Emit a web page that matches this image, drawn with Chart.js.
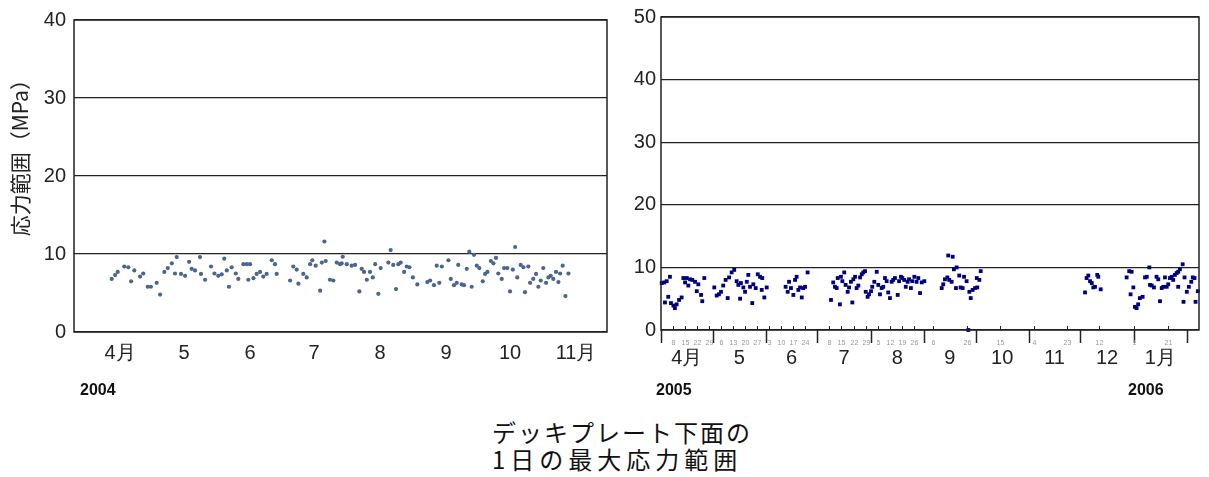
<!DOCTYPE html>
<html>
<head>
<meta charset="utf-8">
<script src="https://cdn.jsdelivr.net/npm/chart.js@4"></script>
<style>
  body { margin: 0; background: #fff; width: 1209px; height: 477px; position: relative; overflow: hidden; }
  #left { position: absolute; left: 0; top: 0; }
  #right { position: absolute; left: 610px; top: 0; }
  .year { position: absolute; top: 381px; font: bold 16px "Liberation Sans", Arial, sans-serif; color: #111; }
  .cap { position: absolute; left: 492px; font-size: 24px; line-height: 24px; font-family: "Noto Sans CJK JP", sans-serif; color: #111; white-space: nowrap; }
</style>
</head>
<body>
<canvas id="left" width="620" height="400"></canvas>
<canvas id="right" width="599" height="400"></canvas>
<div class="year" style="left:80px">2004</div>
<div class="year" style="left:656px">2005</div>
<div class="year" style="left:1128px">2006</div>
<div class="cap" style="top:420px;letter-spacing:2px">デッキプレート下面の</div>
<div class="cap" style="top:447px;letter-spacing:5px">1日の最大応力範囲</div>
<script>
// 2004: days counted from 1 April 2004
const monthStarts2004 = [0, 30, 61, 91, 122, 153, 183, 214];
const monthLabels2004 = ['4月', '5', '6', '7', '8', '9', '10', '11月'];
const yTicks2004 = [0, 10, 20, 30, 40];

const days2004 = [-3.9,-2.3,-1.1,2.0,3.9,5.2,6.7,9.4,10.9,13.0,
  14.5,17.2,18.8,20.8,22.4,24.3,25.8,26.6,28.6,30.5,
  32.4,33.6,35.2,37.5,38.0,39.9,42.7,44.3,46.1,47.7,
  48.9,50.1,51.1,52.4,54.3,55.5,57.9,59.5,60.2,61.0,
  62.6,64.1,65.7,67.2,68.8,71.2,72.7,73.5,79.8,81.3,
  82.9,83.7,86.0,87.6,89.2,90.2,91.8,93.9,94.7,95.9,
  96.5,98.5,100.1,101.7,103.2,104.0,104.5,106.4,108.7,110.3,
  112.3,113.4,114.5,115.8,117.3,118.6,119.7,121.2,122.3,125.9,
  127.0,128.2,129.5,130.6,131.7,133.3,134.5,135.8,137.4,139.5,
  144.2,145.5,147.3,148.6,149.8,151.0,154.1,155.2,156.7,158.0,
  158.7,160.3,161.4,162.7,163.9,165.0,166.1,167.4,168.6,170.2,
  171.3,172.4,174.0,175.2,176.4,177.5,179.1,180.2,181.7,183.0,
  184.3,185.4,186.4,188.0,189.3,190.0,191.6,192.4,193.9,195.2,
  196.3,197.4,198.6,199.9,201.0,202.1,203.3,204.6,205.7,206.5,
  207.7,209.0,210.4];
const stress2004 = [6.8,7.3,7.7,8.4,8.3,6.5,7.9,7.1,7.5,5.8,
  5.8,6.3,4.8,7.7,8.2,8.8,7.5,9.6,7.45,7.2,
  9.0,8.1,7.9,9.6,7.45,6.7,8.4,7.5,7.2,7.4,
  9.4,7.9,5.8,8.3,7.5,6.8,8.7,8.7,6.7,8.7,
  6.9,7.45,7.7,7.1,7.45,9.2,8.7,7.45,6.6,8.4,
  8.0,6.2,7.45,7.0,8.7,9.2,8.5,5.3,8.9,11.6,
  9.1,6.7,6.6,8.9,8.7,8.8,9.65,8.7,8.5,8.6,
  5.2,8.1,7.7,6.7,7.7,7.0,8.7,4.9,8.2,8.9,
  10.5,8.6,5.5,8.7,8.9,7.7,8.4,8.3,7.0,6.1,
  6.4,6.6,6.0,8.5,6.3,8.4,9.2,6.8,6.0,6.3,
  8.6,6.1,6.0,8.1,10.3,5.8,9.9,8.5,8.2,6.5,
  7.45,7.7,9.1,8.8,9.5,7.5,6.8,8.2,8.2,5.2,
  8.0,10.9,7.0,8.6,8.3,5.1,8.4,6.3,6.8,7.45,
  5.8,6.6,8.2,6.3,7.0,7.2,6.8,7.7,6.4,7.5,
  8.5,4.6,7.5];

// 2005-2006: days counted from 1 April 2005
const monthStarts2005 = [0, 30, 61, 91, 122, 153, 183, 214, 244, 275, 306];
const monthMids2005 = [15, 45.5, 76, 106.5, 137.5, 168, 198.5, 229, 259.5, 290.5];
const monthLabels2005 = ['4月', '5', '6', '7', '8', '9', '10', '11', '12', '1月'];
const minorTicks2005 = [7,14,21,28,35,42,49,56,63,70,77,84,98,105,112,119,126,133,140,147,
  158,178,197,217,236,255,275,295];
const yTicks2005 = [0, 10, 20, 30, 40, 50];

const days2005 = [0.4,1.9,3.3,5.2,2.3,4.2,5.8,7.2,8.1,9.1,10.5,12.0,13.0,14.0,15.0,15.9,16.9,18.2,19.8,20.8,21.7,23.3,24.0,25.2,
  31.0,32.4,33.7,34.9,36.2,37.6,38.8,39.6,41.1,42.6,44.0,45.0,46.0,46.5,47.9,48.9,49.9,50.8,51.8,53.1,53.7,55.1,56.3,57.6,58.6,58.9,60.1,61.5,
  72.5,73.7,74.5,75.6,77.0,78.0,78.9,79.9,80.9,81.9,82.8,83.8,85.3,
  98.9,100.2,101.2,102.2,102.8,104.1,104.7,105.5,106.6,107.4,108.6,109.4,110.5,111.3,111.9,112.9,113.8,114.8,115.8,116.8,
  117.7,118.7,119.1,120.2,121.0,122.2,122.9,124.1,125.5,126.4,127.4,128.4,129.3,130.3,131.3,132.2,133.2,134.2,135.1,136.1,
  137.7,138.5,139.6,140.4,141.5,142.4,143.5,144.3,145.4,146.2,147.4,148.7,149.7,150.7,151.7,153.2,
  163.3,164.2,165.2,166.6,167.1,167.7,169.1,169.7,170.4,171.6,172.0,173.5,174.3,175.5,176.3,177.8,178.8,179.4,180.2,181.3,
  182.7,183.7,184.0,185.2,186.0,
  246.7,247.6,248.6,249.6,250.6,251.5,252.5,253.8,254.4,255.8,
  270.9,272.4,273.2,273.8,274.8,275.7,276.7,277.6,278.6,280.2,281.6,282.6,284.1,284.5,285.5,286.8,288.3,289.3,290.3,291.3,
  292.2,293.2,294.2,295.1,296.1,297.1,298.0,299.0,300.0,300.9,300.9,301.9,303.5,304.0,304.6,305.9,307.1,308.5,309.4,310.4,
  311.0,312.3];
const stress2005 = [7.5,7.6,7.8,8.5,4.4,5.3,4.3,3.9,3.5,4.1,4.8,5.2,8.3,7.6,8.3,7.1,8.1,8.0,7.7,6.2,7.3,5.6,4.6,8.3,
  6.8,5.5,5.7,6.1,7.1,8.0,5.1,8.4,9.2,9.6,7.8,7.2,5.0,7.5,6.8,6.1,7.7,8.8,6.9,4.3,7.3,6.7,8.9,8.5,6.4,8.3,5.2,6.8,
  6.9,6.1,7.7,6.7,5.6,8.0,8.5,6.4,6.8,5.2,6.7,6.9,9.2,
  4.8,7.6,6.9,6.7,8.3,4.1,8.5,7.8,9.2,7.2,6.1,6.8,7.7,4.4,8.1,8.5,6.7,7.1,8.4,8.9,
  9.2,9.4,6.1,5.3,5.7,6.2,6.9,7.7,9.3,7.2,5.7,6.7,6.9,8.3,7.8,6.0,5.1,7.7,8.0,8.3,
  5.6,7.8,8.5,8.3,8.0,6.9,7.7,8.1,6.7,7.8,8.5,7.7,8.3,5.9,7.6,7.8,
  6.7,7.3,8.1,8.4,11.9,8.0,7.7,11.7,9.7,6.7,10.0,8.7,6.8,6.7,8.5,7.8,0.0,6.1,5.1,6.4,
  6.7,8.3,6.8,8.0,9.4,
  6.0,8.3,8.7,7.8,7.5,6.8,6.9,8.8,8.5,6.5,
  8.4,9.4,5.7,9.3,6.8,3.7,3.5,4.1,5.1,5.3,8.4,8.5,10.0,7.2,7.1,6.8,8.5,8.1,4.6,6.7,
  6.9,8.4,6.9,7.3,8.3,8.5,8.0,8.8,9.1,9.3,6.9,9.7,10.5,4.5,8.4,6.1,6.9,7.7,8.4,8.3,
  4.5,6.2];

const toPoints = (xs, ys) => xs.map((x, i) => ({ x: x, y: ys[i] }));
const numFont = { family: '"Liberation Sans", Arial, sans-serif', size: 20 };

// box round the plot area
const frame = {
  id: 'frame',
  afterDraw(chart) {
    const a = chart.chartArea, ctx = chart.ctx;
    ctx.save();
    ctx.strokeStyle = '#222';
    ctx.lineWidth = 1.5;
    ctx.strokeRect(a.left, a.top, a.right - a.left, a.bottom - a.top);
    ctx.restore();
  }
};

// month boundary ticks, small ticks and tiny date marks on the 2005 axis
const axisMarks = {
  id: 'axisMarks',
  afterDraw(chart) {
    const ctx = chart.ctx, x = chart.scales.x, b = chart.chartArea.bottom;
    ctx.save();
    ctx.strokeStyle = '#222';
    ctx.lineWidth = 1.5;
    monthStarts2005.forEach(d => {
      const px = Math.round(x.getPixelForValue(d)) + 0.5;
      ctx.beginPath(); ctx.moveTo(px, b); ctx.lineTo(px, b + 13); ctx.stroke();
    });
    ctx.lineWidth = 1;
    ctx.fillStyle = '#999';
    ctx.font = '7px "Liberation Sans", Arial';
    ctx.textAlign = 'center';
    ctx.textBaseline = 'middle';
    minorTicks2005.forEach(d => {
      const px = Math.round(x.getPixelForValue(d)) + 0.5;
      ctx.beginPath(); ctx.moveTo(px, b); ctx.lineTo(px, b - 4); ctx.stroke();
      const day = new Date(2005, 3, 1 + d).getDate();
      ctx.fillText(String(day), px, b + 13);
    });
    ctx.restore();
  }
};

new Chart(document.getElementById('left'), {
  type: 'scatter',
  data: {
    datasets: [{
      data: toPoints(days2004, stress2004),
      backgroundColor: '#4a6590',
      borderWidth: 0,
      pointRadius: 2.1
    }]
  },
  options: {
    responsive: false,
    animation: false,
    layout: { padding: { top: 17, right: 13, left: 0, bottom: 0 } },
    plugins: { legend: { display: false }, tooltip: { enabled: false } },
    scales: {
      x: {
        type: 'linear', min: -21.6, max: 228.5,
        afterBuildTicks: s => { s.ticks = monthStarts2004.map(v => ({ value: v })); },
        afterFit: s => { s.height = 68; },
        grid: { display: false, drawTicks: false },
        border: { display: false },
        ticks: { autoSkip: false, maxRotation: 0, padding: 9, color: '#222', font: numFont,
                 callback: (v, i) => monthLabels2004[i] }
      },
      y: {
        min: 0, max: 40,
        afterBuildTicks: s => { s.ticks = yTicks2004.map(v => ({ value: v })); },
        afterFit: s => { s.width = 74; },
        grid: { color: '#222', lineWidth: 1.3, drawTicks: false },
        border: { display: false },
        ticks: { padding: 8, color: '#222', font: numFont },
        title: {
          display: true,
          text: '\u3000\u3000 応力範囲（MPa）',
          color: '#222',
          font: { family: '"Noto Sans CJK JP", sans-serif', size: 21 },
          padding: { top: 7, bottom: 0 }
        }
      }
    }
  },
  plugins: [frame]
});

new Chart(document.getElementById('right'), {
  type: 'scatter',
  data: {
    datasets: [{
      data: toPoints(days2005, stress2005),
      backgroundColor: '#00007f',
      borderWidth: 0,
      pointStyle: 'rect',
      pointRadius: 2.7,
      clip: 4
    }]
  },
  options: {
    responsive: false,
    animation: false,
    layout: { padding: { top: 17, right: 10, left: 0, bottom: 0 } },
    plugins: { legend: { display: false }, tooltip: { enabled: false } },
    scales: {
      x: {
        type: 'linear', min: 0, max: 313,
        afterBuildTicks: s => { s.ticks = monthMids2005.map(v => ({ value: v })); },
        afterFit: s => { s.height = 70; },
        grid: { display: false, drawTicks: false },
        border: { display: false },
        ticks: { autoSkip: false, maxRotation: 0, padding: 16, color: '#222', font: numFont,
                 callback: (v, i) => monthLabels2005[i] }
      },
      y: {
        min: 0, max: 50,
        afterBuildTicks: s => { s.ticks = yTicks2005.map(v => ({ value: v })); },
        afterFit: s => { s.width = 51; },
        grid: { color: '#222', lineWidth: 1.3, drawTicks: false },
        border: { display: false },
        ticks: { padding: 5, color: '#222', font: numFont }
      }
    }
  },
  plugins: [frame, axisMarks]
});
</script>
</body>
</html>
